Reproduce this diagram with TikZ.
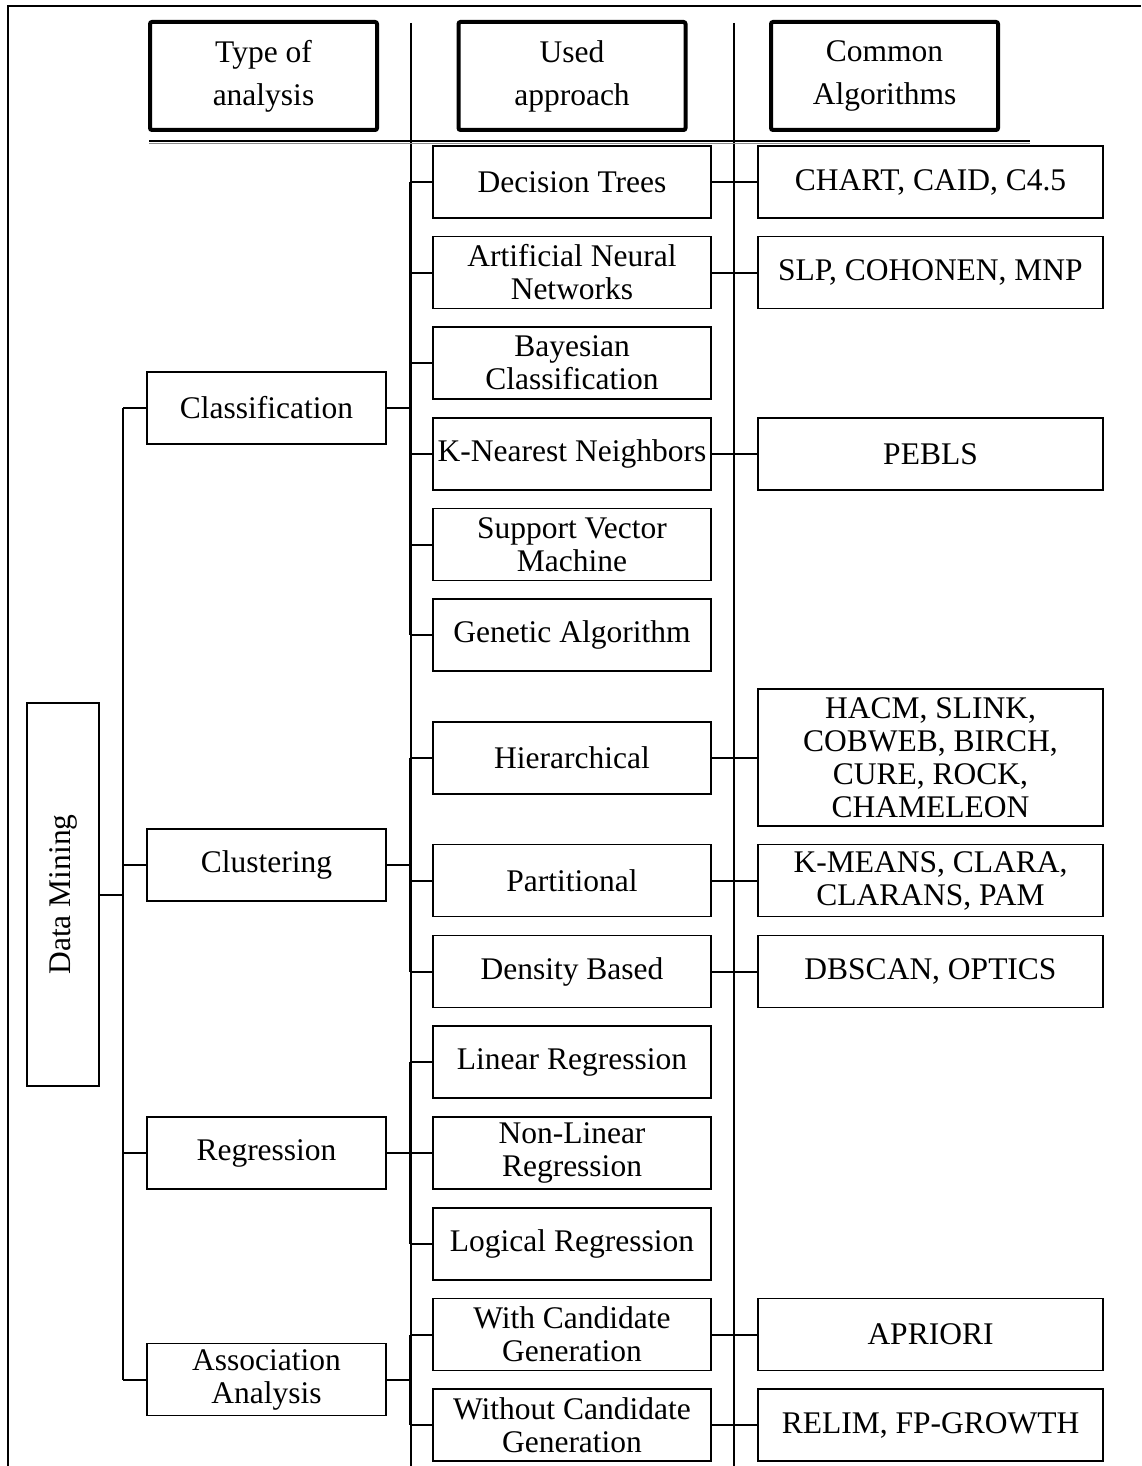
\documentclass[tikz,border=0pt]{standalone}
\usepackage{fontspec}
\setmainfont{Liberation Serif}
\begin{document}
\begin{tikzpicture}[x=1pt,y=-1pt,
  every node/.style={font=\fontsize{31.5}{33}\selectfont, inner sep=0pt, align=center},
  box/.style={draw, line width=1.8pt, fill=white, rectangle},
  typebox/.style={box, minimum width=239pt, minimum height=72pt},
  apprbox/.style={box, minimum width=278pt, minimum height=72pt},
  algbox/.style={box, minimum width=345pt, minimum height=72pt},
  headbox/.style={draw, line width=4pt, rounded corners=2pt, minimum width=227pt,
                  minimum height=108pt, font=\fontsize{31.5}{43}\selectfont},
  conn/.style={line width=2pt},
  trunk/.style={line width=2.6pt},
  sep/.style={line width=1.6pt}]
\useasboundingbox (0,0) rectangle (1141,1466);

% outer frame (top and left edges)
\draw[line width=1.6pt] (8,1466) -- (8,6) -- (1141,6);

% column separators
\draw[sep] (411,23) -- (411,1466);
\draw[sep] (734,23) -- (734,1466);

% header row
\node[headbox] (h1) at (263.5,76) {Type of\\analysis};
\node[headbox] (h2) at (572,76) {Used\\approach};
\node[headbox] (h3) at (884.5,76) {Common\\Algorithms};
\draw[line width=1.4pt] (149,141) -- (1030,141);
\draw[line width=1.4pt, black!45] (149,143.6) -- (1030,143.6);

% root
\node[box, rotate=90, minimum width=383pt, minimum height=72pt] (dm) at (63,894.5) {Data Mining};

% type of analysis
\node[typebox] (cls) at (266.5,408) {Classification};
\node[typebox] (clu) at (266.5,865) {Clustering};
\node[typebox] (reg) at (266.5,1153) {Regression};
\node[typebox] (asc) at (266.5,1379.5) {Association\\Analysis};

% used approach
\node[apprbox] (dt)   at (572,182)    {Decision Trees};
\node[apprbox] (ann)  at (572,272.5)  {Artificial Neural\\Networks};
\node[apprbox] (bay)  at (572,363)    {Bayesian\\Classification};
\node[apprbox] (knn)  at (572,454)    {K-Nearest Neighbors};
\node[apprbox] (svm)  at (572,544.5)  {Support Vector\\Machine};
\node[apprbox] (ga)   at (572,635)    {Genetic Algorithm};
\node[apprbox] (hier) at (572,758)    {Hierarchical};
\node[apprbox] (part) at (572,880.5)  {Partitional};
\node[apprbox] (dens) at (572,971.5)  {Density Based};
\node[apprbox] (lin)  at (572,1062)   {Linear Regression};
\node[apprbox] (nlin) at (572,1153)   {Non-Linear\\Regression};
\node[apprbox] (logr) at (572,1244)   {Logical Regression};
\node[apprbox] (wcg)  at (572,1334.5) {With Candidate\\Generation};
\node[apprbox] (wocg) at (572,1425)   {Without Candidate\\Generation};

% common algorithms
\node[algbox] (a1) at (930.5,182)    {CHART, CAID, C4.5};
\node[algbox] (a2) at (930.5,272.5)  {SLP, COHONEN, MNP};
\node[algbox] (a3) at (930.5,454)    {PEBLS};
\node[algbox, minimum height=137pt] (a4) at (930.5,757.5) {HACM, SLINK,\\COBWEB, BIRCH,\\CURE, ROCK,\\CHAMELEON};
\node[algbox] (a5) at (930.5,880.5)  {K-MEANS, CLARA,\\CLARANS, PAM};
\node[algbox] (a6) at (930.5,971.5)  {DBSCAN, OPTICS};
\node[algbox] (a7) at (930.5,1334.5) {APRIORI};
\node[algbox] (a8) at (930.5,1425)   {RELIM, FP-GROWTH};

% root to types
\coordinate (ta) at (123,0);
\draw[conn] (dm.south) -- (dm.south -| ta);
\draw[conn] (cls.west -| ta) -- (asc.west -| ta);
\foreach \n in {cls,clu,reg,asc} \draw[conn] (\n.west -| ta) -- (\n.west);

% types to approaches
\coordinate (tb) at (410,0);
\foreach \t/\first/\last in {cls/dt/ga, clu/hier/dens, reg/lin/logr, asc/wcg/wocg} {
  \draw[conn] (\t.east) -- (\t.east -| tb);
  \draw[trunk] (\first.west -| tb) -- (\last.west -| tb);
}
\foreach \n in {dt,ann,bay,knn,svm,ga,hier,part,dens,lin,nlin,logr,wcg,wocg}
  \draw[conn] (\n.west -| tb) -- (\n.west);

% approaches to algorithms
\foreach \p/\a in {dt/a1, ann/a2, knn/a3, hier/a4, part/a5, dens/a6, wcg/a7, wocg/a8}
  \draw[conn] (\p.east) -- (\p.east -| \a.west);
\end{tikzpicture}
\end{document}
